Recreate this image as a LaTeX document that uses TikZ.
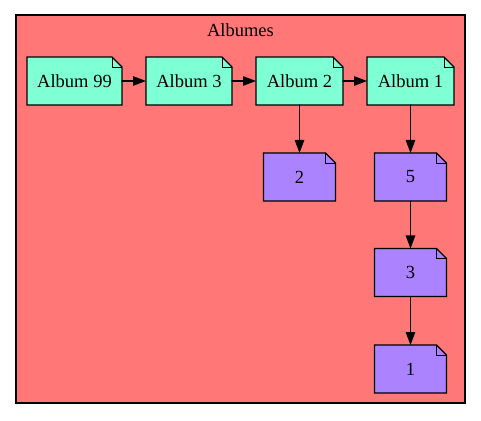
\documentclass[tikz,border=0pt]{standalone}
\usepackage{fontspec}
\setmainfont{Liberation Serif}
\usetikzlibrary{arrows.meta,calc,backgrounds}
\definecolor{clusterred}{HTML}{FF7777}
\definecolor{albumgreen}{HTML}{7FFFD4}
\definecolor{songpurple}{HTML}{AB82FF}
\tikzset{
  notebox/.style={rectangle, minimum height=48pt, inner sep=0pt, outer sep=0pt,
    font=\fontsize{18.5}{22}\selectfont},
  album/.style={notebox},
  song/.style={notebox, minimum width=72pt},
}
\begin{document}
\begin{tikzpicture}[x=1pt,y=1pt,line cap=round,line join=round,>={Triangle[length=13pt,width=9.5pt]}]
	\useasboundingbox (0,0) rectangle (481,420);
	\node [font=\fontsize{18.5}{22}\selectfont] (title) at (240.5,390) {Albumes};
	
	% albums
	\node [album, minimum width=95pt] (a99) at (74.5,339) {Album 99};
	\node [album, minimum width=86pt] (a3) at (189,339) {Album 3};
	\node [album, minimum width=87pt] (a2) at (299.5,339) {Album 2};
	\node [album, minimum width=87pt] (a1) at (410.5,339) {Album 1};
	
	% songs
	\node [song] (s2) at (299.5,243) {2};
	\node [song] (s5) at (410.5,243) {5};
	\node [song] (s3) at (410.5,147.5) {3};
	\node [song] (s1) at (410.5,51) {1};
	
	\begin{scope}[on background layer]
	% cluster
	\draw [line width=1.1pt, fill=clusterred] (16,17) rectangle (465,405);
	% note shapes
	\foreach \n/\c in {a99/albumgreen, a3/albumgreen, a2/albumgreen, a1/albumgreen,
	                   s2/songpurple, s5/songpurple, s3/songpurple, s1/songpurple}{
		\filldraw [line width=1.1pt, fill=\c] (\n.south west) -- (\n.north west)
			-- ($(\n.north east)+(-10,0)$) -- ($(\n.north east)+(0,-10)$) -- (\n.south east) -- cycle;
		\draw [line width=0.9pt] ($(\n.north east)+(-10,0)$) -- ($(\n.north east)+(-10,-10)$)
			-- ($(\n.north east)+(0,-10)$);
	}
	\end{scope}
	
	\draw [line width=1.1pt, ->] (a99) -- (a3);
	\draw [line width=1.1pt, ->] (a3) -- (a2);
	\draw [line width=1.1pt, ->] (a2) -- (a1);
	\draw [line width=1.1pt, ->] (a2) -- (s2);
	\draw [line width=1.1pt, ->] (a1) -- (s5);
	\draw [line width=1.1pt, ->] (s5) -- (s3);
	\draw [line width=1.1pt, ->] (s3) -- (s1);
\end{tikzpicture}
\end{document}
